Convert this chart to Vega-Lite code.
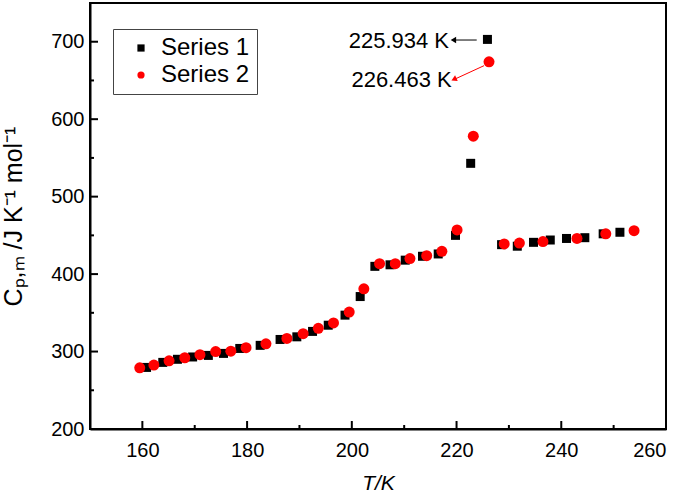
{
  "$schema": "https://vega.github.io/schema/vega-lite/v6.json",
  "autosize": "none",
  "width": 576,
  "height": 426,
  "padding": {"left": 90, "top": 3, "right": 19, "bottom": 70},
  "background": "white",
  "config": {
    "font": "Liberation Sans",
    "view": {"stroke": "black", "strokeWidth": 2},
    "axis": {
      "domainColor": "black", "domainWidth": 2, "ticks": false,
      "labelColor": "black", "titleColor": "black", "labelFont": "Liberation Sans", "titleFont": "Liberation Sans",
      "labelFontSize": 20, "titleFontSize": 21, "titleFontWeight": "normal", "grid": false
    }
  },
  "datasets": {
    "s1": [
      {"T": 160.8, "Cp": 279.5, "series": "Series 1"},
      {"T": 163.9, "Cp": 286, "series": "Series 1"},
      {"T": 166.7, "Cp": 290, "series": "Series 1"},
      {"T": 169.6, "Cp": 293, "series": "Series 1"},
      {"T": 172.6, "Cp": 295, "series": "Series 1"},
      {"T": 175.5, "Cp": 297.6, "series": "Series 1"},
      {"T": 178.6, "Cp": 304, "series": "Series 1"},
      {"T": 182.5, "Cp": 308, "series": "Series 1"},
      {"T": 186.3, "Cp": 315.6, "series": "Series 1"},
      {"T": 189.5, "Cp": 319, "series": "Series 1"},
      {"T": 192.5, "Cp": 326, "series": "Series 1"},
      {"T": 195.5, "Cp": 334, "series": "Series 1"},
      {"T": 198.7, "Cp": 347, "series": "Series 1"},
      {"T": 201.6, "Cp": 371, "series": "Series 1"},
      {"T": 204.4, "Cp": 410, "series": "Series 1"},
      {"T": 207.3, "Cp": 412, "series": "Series 1"},
      {"T": 210.2, "Cp": 418, "series": "Series 1"},
      {"T": 213.5, "Cp": 423, "series": "Series 1"},
      {"T": 216.5, "Cp": 426, "series": "Series 1"},
      {"T": 219.8, "Cp": 450, "series": "Series 1"},
      {"T": 222.7, "Cp": 543, "series": "Series 1"},
      {"T": 225.9, "Cp": 703, "series": "Series 1"},
      {"T": 228.6, "Cp": 438, "series": "Series 1"},
      {"T": 231.6, "Cp": 436, "series": "Series 1"},
      {"T": 234.7, "Cp": 441, "series": "Series 1"},
      {"T": 237.9, "Cp": 444, "series": "Series 1"},
      {"T": 241.0, "Cp": 446, "series": "Series 1"},
      {"T": 244.5, "Cp": 447, "series": "Series 1"},
      {"T": 248.0, "Cp": 452, "series": "Series 1"},
      {"T": 251.2, "Cp": 454, "series": "Series 1"}
    ],
    "s2": [
      {"T": 159.5, "Cp": 279, "series": "Series 2"},
      {"T": 162.2, "Cp": 282.5, "series": "Series 2"},
      {"T": 165.1, "Cp": 288, "series": "Series 2"},
      {"T": 168.1, "Cp": 292, "series": "Series 2"},
      {"T": 171.0, "Cp": 296, "series": "Series 2"},
      {"T": 174.0, "Cp": 300, "series": "Series 2"},
      {"T": 176.9, "Cp": 300.5, "series": "Series 2"},
      {"T": 179.8, "Cp": 305, "series": "Series 2"},
      {"T": 183.6, "Cp": 310, "series": "Series 2"},
      {"T": 187.6, "Cp": 317, "series": "Series 2"},
      {"T": 190.7, "Cp": 323, "series": "Series 2"},
      {"T": 193.6, "Cp": 330, "series": "Series 2"},
      {"T": 196.5, "Cp": 337, "series": "Series 2"},
      {"T": 199.5, "Cp": 351, "series": "Series 2"},
      {"T": 202.3, "Cp": 381, "series": "Series 2"},
      {"T": 205.3, "Cp": 413.5, "series": "Series 2"},
      {"T": 208.3, "Cp": 413.5, "series": "Series 2"},
      {"T": 211.1, "Cp": 420, "series": "Series 2"},
      {"T": 214.3, "Cp": 423.8, "series": "Series 2"},
      {"T": 217.2, "Cp": 429.4, "series": "Series 2"},
      {"T": 220.1, "Cp": 457, "series": "Series 2"},
      {"T": 223.2, "Cp": 578, "series": "Series 2"},
      {"T": 226.2, "Cp": 674, "series": "Series 2"},
      {"T": 229.1, "Cp": 439, "series": "Series 2"},
      {"T": 232.0, "Cp": 440, "series": "Series 2"},
      {"T": 236.5, "Cp": 442, "series": "Series 2"},
      {"T": 243.0, "Cp": 446, "series": "Series 2"},
      {"T": 248.5, "Cp": 452, "series": "Series 2"},
      {"T": 253.9, "Cp": 456, "series": "Series 2"}
    ],
    "labels": [
      {"T": 218.56, "Cp": 700.4, "label": "225.934 K"},
      {"T": 219.08, "Cp": 651.0, "label": "226.463 K"}
    ],
    "arrows": [
      {"T": 223.85, "T2": 219.6, "Cp": 702.2, "Cp2": 702.2, "series": "Series 1"},
      {"T": 225.25, "T2": 219.7, "Cp": 669.1, "Cp2": 651.8, "series": "Series 2"}
    ],
    "heads": [
      {"T": 219.4, "Cp": 702.2, "series": "Series 1"},
      {"T": 219.5, "Cp": 651.5, "series": "Series 2"}
    ],
    "xMajor": [{"T": 160}, {"T": 180}, {"T": 200}, {"T": 220}, {"T": 240}],
    "xMinor": [{"T": 170}, {"T": 190}, {"T": 210}, {"T": 230}, {"T": 250}],
    "yMajor": [{"Cp": 300}, {"Cp": 400}, {"Cp": 500}, {"Cp": 600}, {"Cp": 700}],
    "yMinor": [{"Cp": 250}, {"Cp": 350}, {"Cp": 450}, {"Cp": 550}, {"Cp": 650}]
  },
  "layer": [
    {
      "data": {"name": "xMajor"},
      "mark": {"type": "rule", "strokeWidth": 2, "color": "black"},
      "encoding": {"x": {"field": "T", "type": "quantitative"}, "y": {"datum": 200}, "y2": {"datum": 210.3}}
    },
    {
      "data": {"name": "xMinor"},
      "mark": {"type": "rule", "strokeWidth": 2, "color": "black"},
      "encoding": {"x": {"field": "T", "type": "quantitative"}, "y": {"datum": 200}, "y2": {"datum": 205.2}}
    },
    {
      "data": {"name": "yMajor"},
      "mark": {"type": "rule", "strokeWidth": 2, "color": "black"},
      "encoding": {"y": {"field": "Cp", "type": "quantitative"}, "x": {"datum": 150}, "x2": {"datum": 151.53}}
    },
    {
      "data": {"name": "yMinor"},
      "mark": {"type": "rule", "strokeWidth": 2, "color": "black"},
      "encoding": {"y": {"field": "Cp", "type": "quantitative"}, "x": {"datum": 150}, "x2": {"datum": 150.76}}
    },
    {
      "data": {"name": "arrows"},
      "transform": [{"filter": "datum.series == 'Series 1'"}],
      "mark": {"type": "rule", "strokeWidth": 1, "color": "#000000"},
      "encoding": {
        "x": {"field": "T", "type": "quantitative"},
        "x2": {"field": "T2"},
        "y": {"field": "Cp", "type": "quantitative"},
        "y2": {"field": "Cp2"}
      }
    },
    {
      "data": {"name": "arrows"},
      "transform": [{"filter": "datum.series == 'Series 2'"}],
      "mark": {"type": "rule", "strokeWidth": 1, "color": "#ff0000"},
      "encoding": {
        "x": {"field": "T", "type": "quantitative"},
        "x2": {"field": "T2"},
        "y": {"field": "Cp", "type": "quantitative"},
        "y2": {"field": "Cp2"}
      }
    },
    {
      "data": {"name": "heads"},
      "transform": [{"filter": "datum.series == 'Series 1'"}],
      "mark": {"type": "point", "filled": true, "opacity": 1, "shape": "triangle-left", "size": 40, "color": "#000000", "angle": 0},
      "encoding": {
        "x": {"field": "T", "type": "quantitative"},
        "y": {"field": "Cp", "type": "quantitative"}
      }
    },
    {
      "data": {"name": "heads"},
      "transform": [{"filter": "datum.series == 'Series 2'"}],
      "mark": {"type": "point", "filled": true, "opacity": 1, "shape": "triangle-left", "size": 40, "color": "#ff0000", "angle": 335},
      "encoding": {
        "x": {"field": "T", "type": "quantitative"},
        "y": {"field": "Cp", "type": "quantitative"}
      }
    },
    {
      "data": {"name": "labels"},
      "mark": {"type": "text", "align": "right", "baseline": "middle", "fontSize": 22, "font": "Liberation Sans", "color": "black"},
      "encoding": {
        "x": {"field": "T", "type": "quantitative"},
        "y": {"field": "Cp", "type": "quantitative"},
        "text": {"field": "label"}
      }
    },
    {
      "data": {"name": "s1"},
      "mark": {"type": "point", "filled": true, "opacity": 1, "size": 81},
      "encoding": {
        "x": {
          "field": "T", "type": "quantitative",
          "scale": {"domain": [150, 260], "nice": false, "zero": false},
          "axis": {
            "title": "T/K", "titleFontStyle": "italic", "titlePadding": 12,
            "values": [160, 180, 200, 220, 240, 260],
            "labelPadding": 11
          }
        },
        "y": {
          "field": "Cp", "type": "quantitative",
          "scale": {"domain": [200, 750], "nice": false, "zero": false},
          "axis": {
            "title": "Cₚ,ₘ /J K⁻¹ mol⁻¹",
            "titleFontSize": 25,
            "values": [200, 300, 400, 500, 600, 700],
            "labelPadding": 6,
            "titlePadding": 24
          }
        },
        "color": {
          "field": "series", "type": "nominal", "title": null,
          "scale": {"domain": ["Series 1", "Series 2"], "range": ["#000000", "#ff0000"]},
          "legend": {
            "orient": "none", "legendX": 23, "legendY": 26, "strokeColor": "#444444",
            "padding": 7, "labelFontSize": 24, "labelFont": "Liberation Sans", "labelColor": "black",
            "symbolSize": 52, "symbolOffset": 9, "labelOffset": 8, "rowPadding": 3, "fillColor": "white"
          }
        },
        "shape": {
          "field": "series", "type": "nominal", "title": null,
          "scale": {"domain": ["Series 1", "Series 2"], "range": ["square", "circle"]},
          "legend": {
            "orient": "none", "legendX": 23, "legendY": 26, "strokeColor": "#444444",
            "padding": 7, "labelFontSize": 24, "labelFont": "Liberation Sans", "labelColor": "black",
            "symbolSize": 52, "symbolOffset": 9, "labelOffset": 8, "rowPadding": 3, "fillColor": "white"
          }
        }
      }
    },
    {
      "data": {"name": "s2"},
      "mark": {"type": "point", "filled": true, "opacity": 1, "size": 121},
      "encoding": {
        "x": {"field": "T", "type": "quantitative"},
        "y": {"field": "Cp", "type": "quantitative"},
        "color": {"field": "series", "type": "nominal", "title": null},
        "shape": {"field": "series", "type": "nominal", "title": null}
      }
    }
  ]
}
